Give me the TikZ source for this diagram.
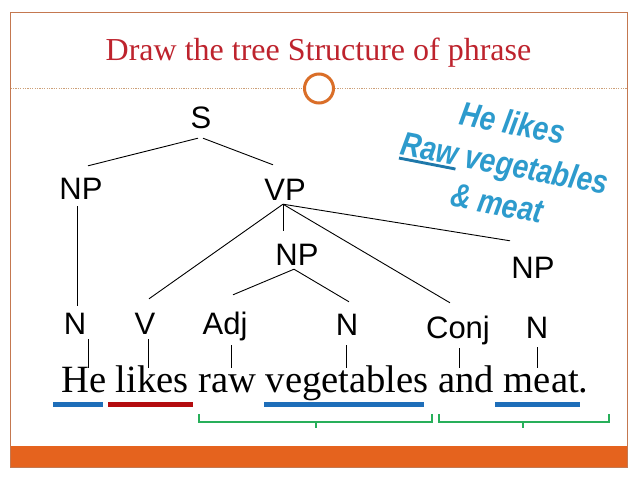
\documentclass[tikz,border=0pt]{standalone}
\usepackage{fontspec}
\setmainfont{Liberation Serif}
\setsansfont{Liberation Sans}
\definecolor{framec}{RGB}{196,120,80}
\definecolor{titlered}{RGB}{190,35,45}
\definecolor{barorange}{RGB}{229,99,30}
\definecolor{ringc}{RGB}{218,110,40}
\definecolor{dotc}{RGB}{205,160,120}
\definecolor{ulblue}{RGB}{30,110,185}
\definecolor{ulred}{RGB}{180,12,15}
\definecolor{brgreen}{RGB}{40,175,90}
\definecolor{artblue}{RGB}{45,155,205}
\definecolor{artdark}{RGB}{30,120,170}
\newcommand\wordul[1]{\setbox0\hbox{#1}\rlap{\color{artdark}\rule[-4pt]{\wd0}{2.4pt}}\box0\relax}
\begin{document}
\begin{tikzpicture}[x=1pt,y=-1pt,
  tl/.style={font=\sffamily\fontsize{31}{31}\selectfont, inner sep=0pt, text height=22pt, text depth=0pt, anchor=base},
  br/.style={line width=0.9pt, black},
  tick/.style={line width=0.8pt, black},
  uline/.style={line width=5pt},
  brk/.style={line width=2pt, brgreen}]
\useasboundingbox (0,0) rectangle (638,479);
\fill[white] (0,0) rectangle (638,479);
% frame and bar
\fill[barorange] (10.5,446) rectangle (627,467);
\draw[framec, line width=0.8pt] (10.5,12.5) rectangle (627,467);
% title
\node[font=\fontsize{32}{32}\selectfont, text=titlered, anchor=base, inner sep=0pt] (title) at (318.5,60) {Draw the tree Structure of phrase};
% dotted rule and ring
\node[circle, draw=ringc, line width=3pt, minimum size=29pt, inner sep=0pt] (ring) at (319,88.5) {};
\draw[dotc, line width=0.7pt, dash pattern=on 1.2pt off 1.2pt] (10.5,88.5) -- (ring.west);
\draw[dotc, line width=0.7pt, dash pattern=on 1.2pt off 1.2pt] (ring.east) -- (627,88.5);
% tree labels
\node[tl] (S) at (201,128) {S};
\node[tl] (NPa) at (81,199) {NP};
\node[tl] (VP) at (285,200) {VP};
\node[tl] (NPb) at (297,265) {NP};
\node[tl] (NPc) at (533,278) {NP};
\node[tl] (Na) at (75,334) {N};
\node[tl] (V) at (145,334) {V};
\node[tl] (Adj) at (225,334) {Adj};
\node[tl] (Nb) at (347,335) {N};
\node[tl] (Conj) at (458,338) {Conj};
\node[tl] (Nc) at (537,338) {N};
% branches
\draw[br] ([shift={(-3pt,-10pt)}]S.south) -- ([shift={(7pt,11pt)}]NPa.north);
\draw[br] ([shift={(2pt,-10pt)}]S.south) -- ([shift={(-12pt,13pt)}]VP.north);
\draw[br] ([shift={(-4pt,-7pt)}]NPa.south) -- ([shift={(2pt,6pt)}]Na.north);
\coordinate (VPs) at ([shift={(-2pt,-4pt)}]VP.south);
\draw[br] (VPs) -- ([shift={(4pt,13pt)}]V.north);
\draw[br] (VPs) -- ([shift={(-14pt,12pt)}]NPb.north);
\draw[br] (VPs) -- ([shift={(-8pt,13pt)}]Conj.north);
\draw[br] (VPs) -- ([shift={(-23pt,15pt)}]NPc.north);
\coordinate (NPbs) at ([shift={(-3pt,-4pt)}]NPb.south);
\draw[br] (NPbs) -- ([shift={(8pt,17pt)}]Adj.north);
\draw[br] (NPbs) -- ([shift={(2pt,11pt)}]Nb.north);
% sentence
\node[font=\fontsize{38.6}{38.6}\selectfont, anchor=base west, inner sep=0pt] (sent) at (61,392) {He likes raw vegetables and meat.};
% word ticks
\coordinate (w1) at (88,368);
\coordinate (w2) at (148,368);
\coordinate (w3) at (231,368);
\coordinate (w4) at (346,368);
\coordinate (w5) at (459,368);
\coordinate (w6) at (537,368);
\draw[tick] ([shift={(13pt,-5pt)}]Na.south) -- (w1);
\draw[tick] ([shift={(3pt,-5pt)}]V.south) -- (w2);
\draw[tick] ([shift={(6pt,-11pt)}]Adj.south) -- (w3);
\draw[tick] ([shift={(-1pt,-10pt)}]Nb.south) -- (w4);
\draw[tick] ([shift={(1pt,-10pt)}]Conj.south) -- (w5);
\draw[tick] ([shift={(0pt,-9pt)}]Nc.south) -- (w6);
% underlines
\draw[uline, ulblue] (53,404.5) -- (103,404.5);
\draw[uline, ulred] (108,404.5) -- (193,404.5);
\draw[uline, ulblue] (264,404.5) -- (424,404.5);
\draw[uline, ulblue] (495,404.5) -- (580,404.5);
% brackets
\draw[brk] (199,414) -- (199,422) -- (432,422) -- (432,414);
\draw[brk] (316,422) -- (316,428);
\draw[brk] (439,414) -- (439,422) -- (609,422) -- (609,414);
\draw[brk] (523,422) -- (523,428);
% word art
\node[rotate=-11, yscale=1.2, align=center, text=artblue, inner sep=0pt,
  font=\sffamily\bfseries\itshape\fontsize{28}{34}\selectfont] (art) at (505,163)
  {He likes\\\wordul{Raw} vegetables\\\& meat};
\end{tikzpicture}
\end{document}
